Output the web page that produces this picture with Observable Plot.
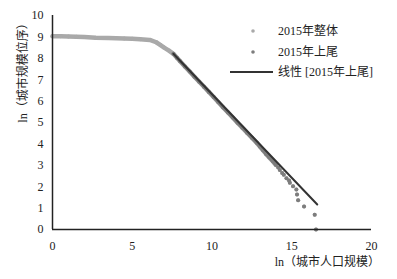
<!DOCTYPE html>
<html><head><meta charset="utf-8">
<script src="https://cdn.jsdelivr.net/npm/d3@7"></script>
<script src="https://cdn.jsdelivr.net/npm/@observablehq/plot@0.6"></script>
<style>
body{margin:0;background:#fff;}
#wrap{position:relative;width:397px;height:279px;font-family:"Liberation Serif","Noto Sans CJK SC",serif;}
</style></head><body><div id="wrap"></div>
<script>
// Whole 2015 sample (lower part; tail part shares the upper-tail points)
const wholeX = [0, 0.5, 1, 1.5, 2, 2.7, 3.5, 4.5, 5, 5.5, 6.1, 6.5, 6.75, 7.0, 7.3, 7.58];
const wholeY = [9.03, 9.03, 9.02, 9.01, 9.0, 8.96, 8.95, 8.93, 8.91, 8.89, 8.86, 8.75, 8.63, 8.5, 8.36, 8.21];
// Upper tail 2015
const tailX = [7.58, 7.8, 8.0, 8.3, 8.6, 8.9, 9.2, 9.5, 9.8, 10.1, 10.4, 10.7, 11.0, 11.3, 11.6, 11.9, 12.2, 12.5, 12.8, 13.0, 13.2, 13.4, 13.6, 13.8, 14.0, 14.15, 14.25, 14.4, 14.5, 14.67, 14.83, 14.88, 15.08, 15.29, 15.33, 15.4, 15.77, 16.44, 16.52];
const tailY = [8.21, 8.03, 7.86, 7.62, 7.38, 7.14, 6.90, 6.67, 6.43, 6.19, 5.95, 5.70, 5.47, 5.23, 4.99, 4.76, 4.52, 4.29, 4.05, 3.88, 3.70, 3.52, 3.36, 3.20, 3.02, 2.90, 2.78, 2.64, 2.56, 2.40, 2.29, 2.18, 2.02, 1.87, 1.63, 1.37, 1.08, 0.69, 0];
const denseLimit = 14.0;
// Linear fit of the upper tail
const fitX = [7.58, 16.6];
const fitY = [8.21, 1.17];
const xTicks = [0, 5, 10, 15, 20];
const yTicks = [0, 1, 2, 3, 4, 5, 6, 7, 8, 9, 10];
const legendLabels = ["2015年整体", "2015年上尾", "线性 [2015年上尾]"];
const xTitle = "ln（城市人口规模）";
const yTitle = "ln（城市规模位序）";

const whole = wholeX.map((x, i) => ({x, y: wholeY[i]})).concat(tailX.map((x, i) => ({x, y: tailY[i]})));
const tail = tailX.map((x, i) => ({x, y: tailY[i]}));
const tailDense = tail.filter(d => d.x <= denseLimit);
const wholeDense = whole.filter(d => d.x <= denseLimit);
const fit = fitX.map((x, i) => ({x, y: fitY[i]}));

const light = "#a9a9a9", mid = "#7d7d7d", dark = "#333";

const chart = Plot.plot({
  width: 397, height: 279,
  marginLeft: 52, marginRight: 26, marginTop: 15, marginBottom: 50,
  style: {fontFamily: '"Liberation Serif","Noto Sans CJK SC",serif', fontSize: "12px", color: "#222", background: "#fff"},
  x: {domain: [0, 20]},
  y: {domain: [0, 10]},
  marks: [
    Plot.axisX({ticks: xTicks, tickSize: 0, tickPadding: 12, label: null, fontSize: 12}),
    Plot.axisY({ticks: yTicks, tickSize: 0, tickPadding: 9, label: null, fontSize: 12}),
    Plot.line(wholeDense, {x: "x", y: "y", stroke: light, strokeWidth: 4.5}),
    Plot.dot(whole, {x: "x", y: "y", r: 2, fill: light}),
    Plot.line(tailDense, {x: "x", y: "y", stroke: mid, strokeWidth: 3.5}),
    Plot.dot(tail, {x: "x", y: "y", r: 2, fill: mid}),
    Plot.line(fit, {x: "x", y: "y", stroke: dark, strokeWidth: 2}),
    Plot.ruleX([0], {y1: 0, y2: 10, stroke: "#222", strokeWidth: 1.5}),
    Plot.ruleY([0], {x1: 0, x2: 20, stroke: "#222", strokeWidth: 1.5})
  ]
});
document.getElementById("wrap").appendChild(chart);

const svg = d3.select(chart);
svg.append("text").attr("transform", "translate(23,70) rotate(-90)")
  .attr("text-anchor", "middle").attr("dominant-baseline", "central")
  .attr("font-size", 12).attr("fill", "#222").text(yTitle);
svg.append("text").attr("x", 380).attr("y", 262)
  .attr("text-anchor", "end").attr("dominant-baseline", "central")
  .attr("font-size", 12).attr("fill", "#222").text(xTitle);

// legend
const lg = svg.append("g").attr("font-size", 12).attr("fill", "#222").attr("text-anchor", "start");
const rows = [31, 52, 72];
lg.append("circle").attr("cx", 253).attr("cy", rows[0]).attr("r", 1.8).attr("fill", light);
lg.append("circle").attr("cx", 253).attr("cy", rows[1]).attr("r", 1.8).attr("fill", mid);
lg.append("line").attr("x1", 230).attr("x2", 273).attr("y1", rows[2]).attr("y2", rows[2]).attr("stroke", dark).attr("stroke-width", 2);
legendLabels.forEach((t, i) => {
  lg.append("text").attr("x", 278).attr("y", rows[i]).attr("text-anchor", "start").attr("dominant-baseline", "central").text(t);
});
</script></body></html>
